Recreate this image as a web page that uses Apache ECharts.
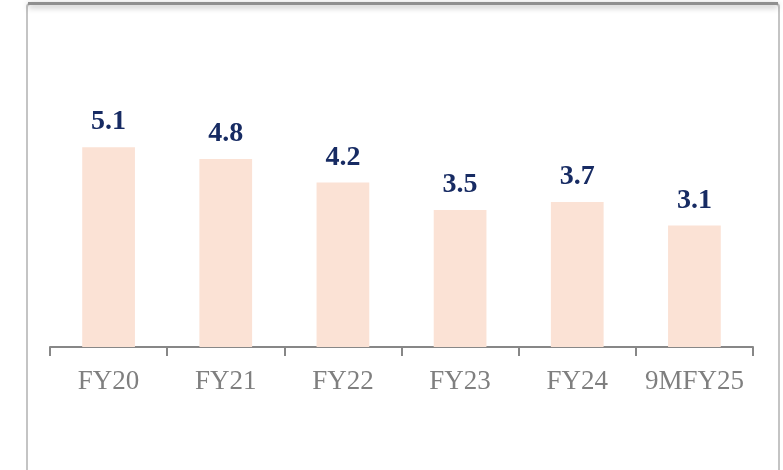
<!DOCTYPE html>
<html>
<head>
<meta charset="utf-8">
<script src="https://cdn.jsdelivr.net/npm/echarts@6/dist/echarts.min.js"></script>
<style>
html,body{margin:0;padding:0;background:#fff;}
#c{width:783px;height:470px;}
</style>
</head>
<body>
<div id="c"></div>
<script>
const categories = ['FY20', 'FY21', 'FY22', 'FY23', 'FY24', '9MFY25'];
const values = [5.1, 4.8, 4.2, 3.5, 3.7, 3.1];

const chart = echarts.init(document.getElementById('c'), null, {renderer: 'canvas'});
chart.setOption({
  animation: false,
  backgroundColor: '#ffffff',
  graphic: [
    {
      type: 'rect', z: 0,
      shape: {x: 27, y: 4, width: 752, height: 520, r: 3},
      style: {fill: '#ffffff', stroke: '#c4c4c4', lineWidth: 2}
    },
    {
      type: 'line', z: 1,
      shape: {x1: 28, y1: 3.5, x2: 778, y2: 3.5},
      style: {stroke: '#8f8f8f', lineWidth: 3, shadowBlur: 6, shadowColor: 'rgba(0,0,0,0.35)', shadowOffsetY: 2}
    }
  ],
  grid: {left: 50, right: 30, top: 112, bottom: 123, containLabel: false},
  xAxis: {
    type: 'category',
    data: categories,
    axisLine: {lineStyle: {color: '#878787', width: 2}},
    axisTick: {show: true, interval: 0, length: 9, lineStyle: {color: '#878787', width: 2}},
    axisLabel: {
      interval: 0,
      hideOverlap: false,
      margin: 21,
      color: '#7f7f7f',
      fontFamily: 'Liberation Serif',
      fontSize: 27
    }
  },
  yAxis: {
    type: 'value', min: 0, max: 6, show: false,
    splitLine: {show: false}
  },
  series: [{
    type: 'bar',
    data: values,
    barWidth: '45%',
    itemStyle: {color: '#fbe2d5'},
    label: {
      show: true,
      position: 'top',
      distance: 11,
      color: '#172b63',
      fontFamily: 'Liberation Serif',
      fontWeight: 'bold',
      fontSize: 28,
      formatter: p => p.value.toFixed(1)
    }
  }]
});
</script>
</body>
</html>
